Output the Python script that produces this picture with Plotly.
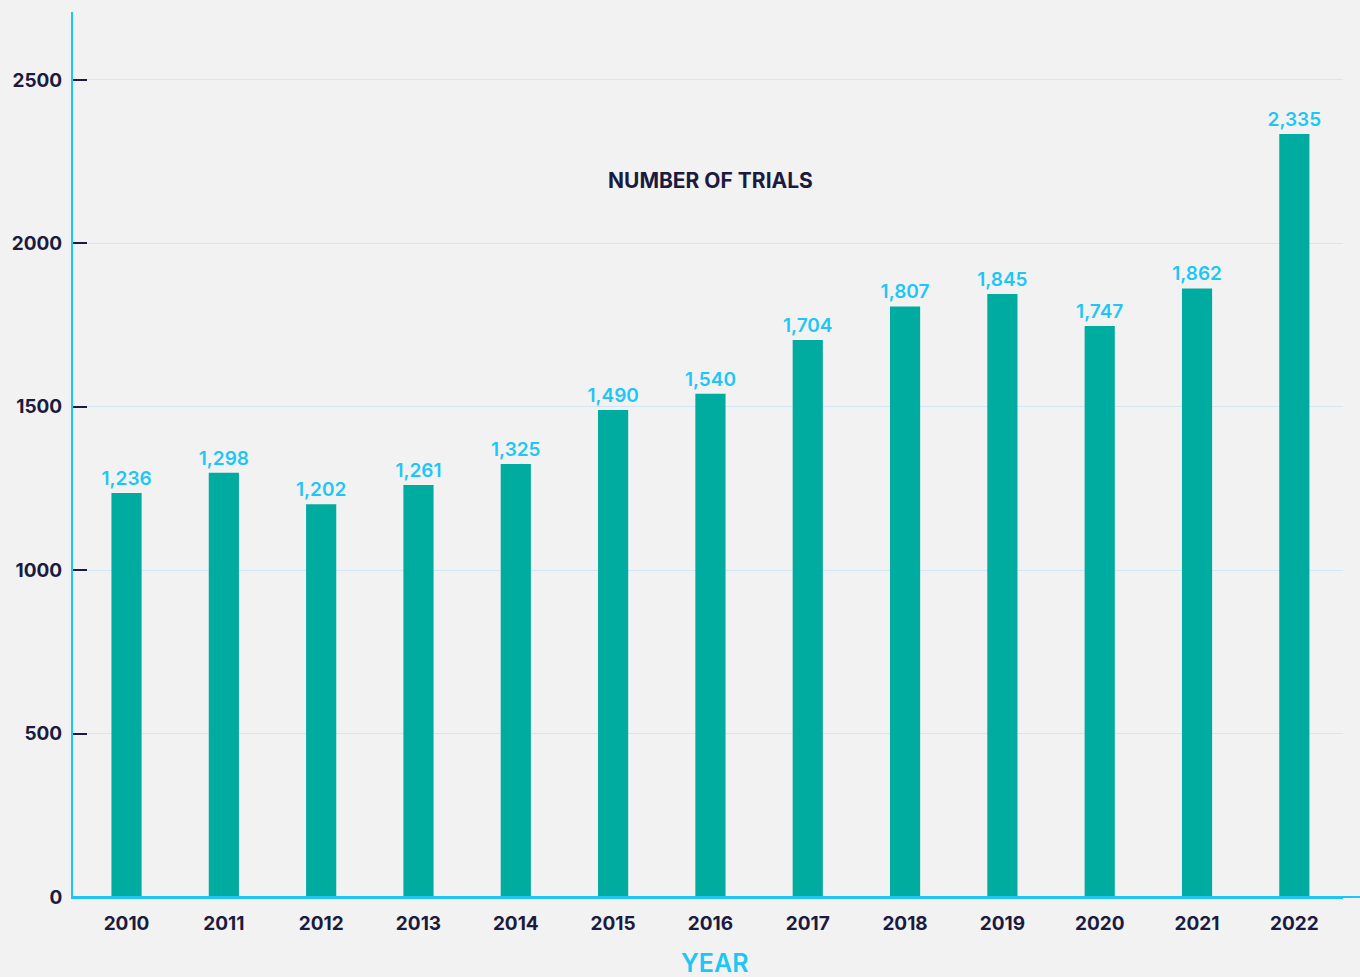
import plotly.graph_objects as go

years = ["2010", "2011", "2012", "2013", "2014", "2015", "2016",
         "2017", "2018", "2019", "2020", "2021", "2022"]
trials = [1236, 1298, 1202, 1261, 1325, 1490, 1540, 1704, 1807, 1845, 1747, 1862, 2335]
y_ticks = [0, 500, 1000, 1500, 2000, 2500]

NAVY = "#1b1a3f"
CYAN = "#1ec6f5"
TEAL = "#00ac9f"
BG = "#f2f2f2"
FONT = "Inter"

W, H = 1360, 977
L, R, T, B = 69, W - 1343, 12, H - 897

fig = go.Figure()
fig.add_trace(go.Bar(
    x=years, y=trials,
    marker=dict(color=TEAL, line=dict(width=0)),
    width=0.31,
    text=[f"{v:,}" for v in trials],
    textposition="outside",
    constraintext="none",
    textfont=dict(family=FONT, size=19, color=CYAN, weight=600),
    cliponaxis=False,
    hoverinfo="x+y",
))

fig.update_layout(
    width=W, height=H,
    margin=dict(l=L, r=R, t=T, b=B, pad=0),
    paper_bgcolor=BG, plot_bgcolor=BG,
    showlegend=False,
    bargap=0.69,
    font=dict(family=FONT, color=NAVY, size=19),
)

fig.update_xaxes(
    type="category",
    range=[-0.55, 12.5],
    showgrid=False,
    showline=True, linecolor=CYAN, linewidth=2,
    ticks="", ticklabelstandoff=8,
    tickfont=dict(family=FONT, size=19, color=NAVY, weight=650),
    zeroline=False,
)
fig.update_yaxes(
    range=[0, 2708],
    tickvals=y_ticks,
    ticktext=[str(v) for v in y_ticks],
    showgrid=True, gridcolor="#d3e6f4", gridwidth=1,
    showline=True, linecolor=CYAN, linewidth=2,
    ticks="inside", ticklen=14, tickcolor=NAVY, tickwidth=1.5,
    ticklabelstandoff=5,
    tickfont=dict(family=FONT, size=19, color=NAVY, weight=650),
    zeroline=False,
)

# x-axis baseline extends to the right edge
fig.add_shape(type="line", xref="paper", yref="paper",
              x0=0, x1=(W - L) / (1343 - L), y0=0, y1=0,
              line=dict(color=CYAN, width=2))

fig.add_annotation(
    text="NUMBER OF TRIALS", xref="paper", yref="y",
    x=(709 - L) / (1343 - L), y=2191, showarrow=False,
    font=dict(family=FONT, size=21, color=NAVY, weight=700),
    xanchor="center", yanchor="middle",
)
fig.add_annotation(
    text="YEAR", xref="paper", yref="paper",
    x=(713 - L) / (1343 - L), y=-(963 - 897) / (897 - T), showarrow=False,
    font=dict(family=FONT, size=25, color=CYAN, weight=600),
    xanchor="center", yanchor="middle",
)

fig.write_html(
    "out.html",
    config={"displayModeBar": False},
    post_script="document.body.style.margin='0';document.body.style.padding='0';"
                "document.documentElement.style.overflow='hidden';",
)
